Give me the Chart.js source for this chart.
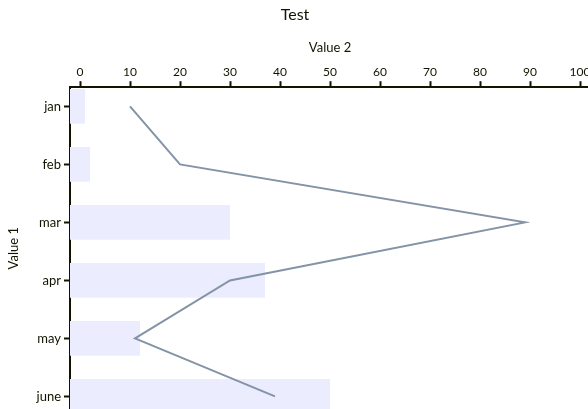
<!DOCTYPE html>
<html lang="en">
<head>
<meta charset="UTF-8">
<title>Test</title>
<script src="https://cdn.jsdelivr.net/npm/chart.js"></script>
<style>
*{margin:0;padding:0;box-sizing:border-box;}
html,body{width:588px;height:409px;overflow:hidden;background:#fff;}
.wrap{position:relative;width:600px;height:420px;}
</style>
</head>
<body>
<div class="wrap"><canvas id="chart"></canvas></div>

<script>
const months=["jan","feb","mar","apr","may","june"];
const barValues=[1,2,30,37,12,50];
const lineValues=[10,20,89,30,11,39];
const valueTicks=[0,10,20,30,40,50,60,70,80,90,100];

const FONT="Lato, 'Trebuchet MS', sans-serif";
const INK="#131300";
const X_MIN=-2, X_MAX=102;

const toPoints=vals=>vals.map((v,i)=>({x:v,y:i}));

new Chart(document.getElementById("chart"),{
type:'bar',
data:{
datasets:[
{
type:'line',
label:'line',
data:toPoints(lineValues),
indexAxis:'y',
borderColor:'#8493A6',
borderWidth:2,
pointRadius:0,
tension:0,
order:0
},
{
type:'bar',
label:'bar',
data:toPoints(barValues),
indexAxis:'y',
base:X_MIN,
backgroundColor:'#ECECFF',
borderWidth:0,
categoryPercentage:1,
barPercentage:0.6,
order:1
}
]
},
options:{
indexAxis:'y',
responsive:true,
maintainAspectRatio:false,
animation:false,
layout:{padding:{right:10,bottom:0,left:0,top:0}},
plugins:{
legend:{display:false},
tooltip:{enabled:false},
title:{
display:true,
text:'Test',
color:INK,
font:{family:FONT,size:16,weight:'normal',lineHeight:1.2},
padding:{top:5,bottom:0}
}
},
scales:{
x:{
type:'linear',
position:'top',
min:X_MIN,
max:X_MAX,
afterBuildTicks:s=>{s.ticks=valueTicks.map(v=>({value:v}));},
afterFit:s=>{s.height=63;},
ticks:{color:INK,font:{family:FONT,size:12},padding:2},
grid:{display:true,drawOnChartArea:false,drawTicks:true,tickLength:6,tickColor:INK,tickWidth:2},
border:{display:true,color:INK,width:2},
title:{display:true,text:'Value 2',color:INK,font:{family:FONT,size:13},padding:{top:16,bottom:0}}
},
y:{
type:'linear',
reverse:true,
offset:false,
min:-0.33,
max:5.22,
afterBuildTicks:s=>{s.ticks=months.map((m,i)=>({value:i}));},
afterFit:s=>{s.width=70;},
ticks:{color:INK,font:{family:FONT,size:13},padding:3,callback:v=>months[v]},
grid:{display:true,offset:false,drawOnChartArea:false,drawTicks:true,tickLength:6,tickColor:INK,tickWidth:2},
border:{display:true,color:INK,width:2},
title:{display:true,text:'Value 1',color:INK,font:{family:FONT,size:13},padding:{top:6,bottom:0}}
}
}
}
});
</script>
</body>
</html>
